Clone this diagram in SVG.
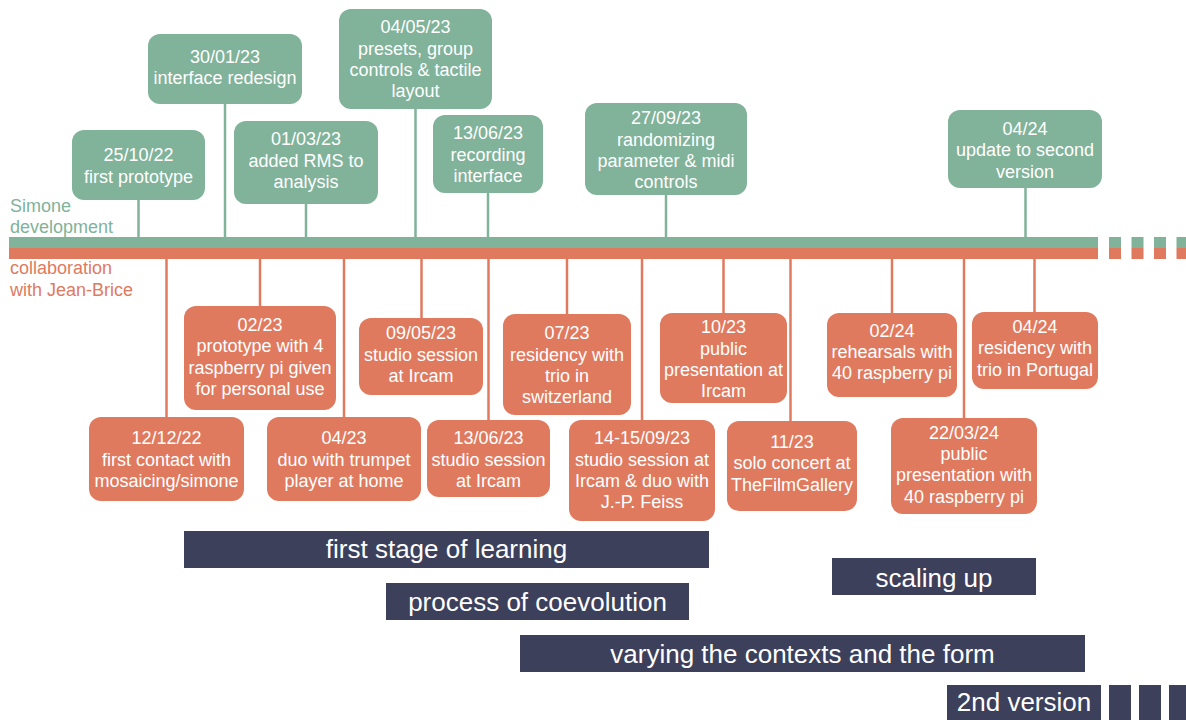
<svg xmlns="http://www.w3.org/2000/svg" width="1186" height="720" viewBox="0 0 1186 720">
<style>
.g{fill:#81B29A}
.o{fill:#E07A5F}
.n{fill:#3D405B}
.gs{stroke:#81B29A;stroke-width:2.5;fill:none}
.os{stroke:#E07A5F;stroke-width:2.5;fill:none}
.t{font-family:"Liberation Sans",Arial,Helvetica,sans-serif;font-size:18px;fill:#FFFFFF;text-anchor:middle}
.bt{font-family:"Liberation Sans",Arial,Helvetica,sans-serif;font-size:26px;fill:#FFFFFF;text-anchor:middle}
.lg{font-family:"Liberation Sans",Arial,Helvetica,sans-serif;font-size:18px;fill:#81B29A}
.lo{font-family:"Liberation Sans",Arial,Helvetica,sans-serif;font-size:18px;fill:#E07A5F}
</style>
<rect width="1186" height="720" fill="#FFFFFF"/>

<g id="timeline">
<rect class="g" x="9" y="237" width="1089" height="11"/>
<rect class="o" x="9" y="248" width="1089" height="11"/>
<rect class="g" x="1109" y="237" width="12" height="11"/>
<rect class="o" x="1109" y="248" width="12" height="11"/>
<rect class="g" x="1131.5" y="237" width="12" height="11"/>
<rect class="o" x="1131.5" y="248" width="12" height="11"/>
<rect class="g" x="1154" y="237" width="12" height="11"/>
<rect class="o" x="1154" y="248" width="12" height="11"/>
<rect class="g" x="1176.5" y="237" width="12" height="11"/>
<rect class="o" x="1176.5" y="248" width="12" height="11"/>
<text class="lg" x="10" y="212">Simone</text>
<text class="lg" x="10" y="233">development</text>
<text class="lo" x="10" y="274">collaboration</text>
<text class="lo" x="10" y="296">with Jean-Brice</text>
</g>

<g id="connectors">
<line class="gs" x1="138.5" y1="200" x2="138.5" y2="238"/>
<line class="gs" x1="225" y1="104" x2="225" y2="238"/>
<line class="gs" x1="306" y1="204" x2="306" y2="238"/>
<line class="gs" x1="415.5" y1="109" x2="415.5" y2="238"/>
<line class="gs" x1="488" y1="193" x2="488" y2="238"/>
<line class="gs" x1="666" y1="195" x2="666" y2="238"/>
<line class="gs" x1="1025.5" y1="188" x2="1025.5" y2="238"/>
<line class="os" x1="260" y1="258" x2="260" y2="306"/>
<line class="os" x1="421.5" y1="258" x2="421.5" y2="318"/>
<line class="os" x1="567" y1="258" x2="567" y2="314"/>
<line class="os" x1="723.5" y1="258" x2="723.5" y2="313"/>
<line class="os" x1="892" y1="258" x2="892" y2="313"/>
<line class="os" x1="1034.5" y1="258" x2="1034.5" y2="312"/>
<line class="os" x1="166.5" y1="258" x2="166.5" y2="417"/>
<line class="os" x1="344" y1="258" x2="344" y2="417"/>
<line class="os" x1="488.5" y1="258" x2="488.5" y2="420"/>
<line class="os" x1="642" y1="258" x2="642" y2="420"/>
<line class="os" x1="790.5" y1="258" x2="790.5" y2="421"/>
<line class="os" x1="964" y1="258" x2="964" y2="418"/>
</g>

<g id="s1"><rect class="g" x="72" y="130" width="133" height="70" rx="12"/>
<text class="t" x="138.5" y="161">25/10/22</text><text class="t" x="138.5" y="183">first prototype</text></g>
<g id="s2"><rect class="g" x="148" y="34" width="154" height="70" rx="12"/>
<text class="t" x="225" y="63">30/01/23</text><text class="t" x="225" y="84">interface redesign</text></g>
<g id="s3"><rect class="g" x="234" y="121" width="144" height="83" rx="12"/>
<text class="t" x="306" y="145">01/03/23</text><text class="t" x="306" y="167">added RMS to</text><text class="t" x="306" y="188">analysis</text></g>
<g id="s4"><rect class="g" x="339" y="9" width="153" height="100" rx="12"/>
<text class="t" x="415.5" y="33">04/05/23</text><text class="t" x="415.5" y="55">presets, group</text><text class="t" x="415.5" y="76">controls &amp; tactile</text><text class="t" x="415.5" y="97">layout</text></g>
<g id="s5"><rect class="g" x="433" y="115" width="110" height="78" rx="12"/>
<text class="t" x="488" y="139">13/06/23</text><text class="t" x="488" y="161">recording</text><text class="t" x="488" y="182">interface</text></g>
<g id="s6"><rect class="g" x="585" y="103" width="162" height="92" rx="12"/>
<text class="t" x="666" y="124">27/09/23</text><text class="t" x="666" y="146">randomizing</text><text class="t" x="666" y="167">parameter &amp; midi</text><text class="t" x="666" y="188">controls</text></g>
<g id="s7"><rect class="g" x="948" y="110" width="154" height="78" rx="12"/>
<text class="t" x="1025" y="135">04/24</text><text class="t" x="1025" y="156">update to second</text><text class="t" x="1025" y="178">version</text></g>

<g id="c1"><rect class="o" x="184" y="306" width="152" height="104" rx="12"/>
<text class="t" x="260" y="331">02/23</text><text class="t" x="260" y="352">prototype with 4</text><text class="t" x="260" y="374">raspberry pi given</text><text class="t" x="260" y="395">for personal use</text></g>
<g id="c2"><rect class="o" x="359" y="318" width="124" height="77" rx="12"/>
<text class="t" x="421" y="339">09/05/23</text><text class="t" x="421" y="361">studio session</text><text class="t" x="421" y="382">at Ircam</text></g>
<g id="c3"><rect class="o" x="503" y="314" width="128" height="101" rx="12"/>
<text class="t" x="567" y="339">07/23</text><text class="t" x="567" y="361">residency with</text><text class="t" x="567" y="382">trio in</text><text class="t" x="567" y="403">switzerland</text></g>
<g id="c4"><rect class="o" x="660" y="313" width="127" height="90" rx="12"/>
<text class="t" x="723.5" y="333">10/23</text><text class="t" x="723.5" y="355">public</text><text class="t" x="723.5" y="376">presentation at</text><text class="t" x="723.5" y="397">Ircam</text></g>
<g id="c5"><rect class="o" x="827" y="313" width="130" height="84" rx="12"/>
<text class="t" x="892" y="337">02/24</text><text class="t" x="892" y="358">rehearsals with</text><text class="t" x="892" y="379">40 raspberry pi</text></g>
<g id="c6"><rect class="o" x="972" y="312" width="126" height="77" rx="12"/>
<text class="t" x="1035" y="333">04/24</text><text class="t" x="1035" y="354">residency with</text><text class="t" x="1035" y="376">trio in Portugal</text></g>
<g id="c7"><rect class="o" x="89" y="417" width="155" height="84" rx="12"/>
<text class="t" x="166.5" y="444">12/12/22</text><text class="t" x="166.5" y="466">first contact with</text><text class="t" x="166.5" y="487">mosaicing/simone</text></g>
<g id="c8"><rect class="o" x="267" y="417" width="154" height="84" rx="12"/>
<text class="t" x="344" y="444">04/23</text><text class="t" x="344" y="466">duo with trumpet</text><text class="t" x="344" y="487">player at home</text></g>
<g id="c9"><rect class="o" x="427" y="420" width="123" height="77" rx="12"/>
<text class="t" x="488.5" y="444">13/06/23</text><text class="t" x="488.5" y="466">studio session</text><text class="t" x="488.5" y="487">at Ircam</text></g>
<g id="c10"><rect class="o" x="569" y="420" width="146" height="101" rx="12"/>
<text class="t" x="642" y="444">14-15/09/23</text><text class="t" x="642" y="466">studio session at</text><text class="t" x="642" y="487">Ircam &amp; duo with</text><text class="t" x="642" y="508">J.-P. Feiss</text></g>
<g id="c11"><rect class="o" x="727" y="421" width="130" height="90" rx="12"/>
<text class="t" x="792" y="448">11/23</text><text class="t" x="792" y="469">solo concert at</text><text class="t" x="792" y="491">TheFilmGallery</text></g>
<g id="c12"><rect class="o" x="891" y="418" width="146" height="96" rx="12"/>
<text class="t" x="964" y="439">22/03/24</text><text class="t" x="964" y="460">public</text><text class="t" x="964" y="481">presentation with</text><text class="t" x="964" y="503">40 raspberry pi</text></g>

<g id="phase1"><rect class="n" x="184" y="531" width="525" height="37"/><text class="bt" x="446.5" y="558">first stage of learning</text></g>
<g id="phase2"><rect class="n" x="386" y="583" width="303" height="37"/><text class="bt" x="537.5" y="611">process of coevolution</text></g>
<g id="phase3"><rect class="n" x="832" y="558" width="204" height="37"/><text class="bt" x="934" y="587">scaling up</text></g>
<g id="phase4"><rect class="n" x="520" y="635" width="565" height="37"/><text class="bt" x="802.5" y="663">varying the contexts and the form</text></g>
<g id="phase5"><rect class="n" x="947" y="685" width="154" height="35"/><text class="bt" x="1024" y="711">2nd version</text>
<rect class="n" x="1109" y="685" width="22" height="35"/>
<rect class="n" x="1139" y="685" width="22" height="35"/>
<rect class="n" x="1169" y="685" width="22" height="35"/></g>
</svg>
